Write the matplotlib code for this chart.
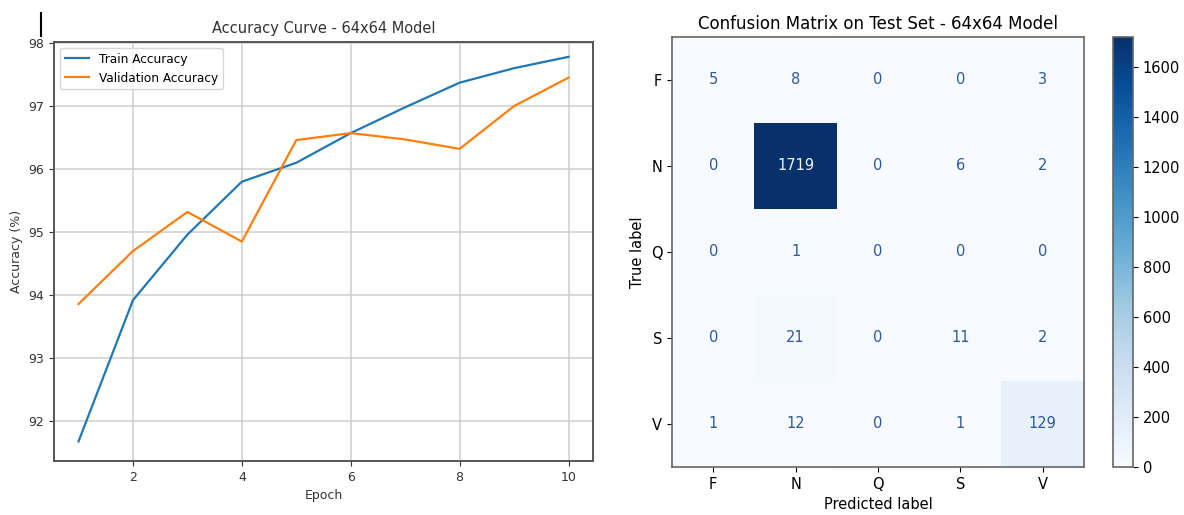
import numpy as np
import matplotlib
matplotlib.use('Agg')
import matplotlib.pyplot as plt
from matplotlib.lines import Line2D

# Accuracy curve data
epochs = [1, 2, 3, 4, 5, 6, 7, 8, 9, 10]
train_acc = [91.68, 93.92, 94.96, 95.80, 96.10, 96.57, 96.98, 97.37, 97.60, 97.78]
val_acc = [93.86, 94.70, 95.32, 94.85, 96.46, 96.57, 96.47, 96.32, 97.00, 97.45]

# Confusion matrix data
class_names = ['F', 'N', 'Q', 'S', 'V']
cm = np.array([
    [5, 8, 0, 0, 3],
    [0, 1719, 0, 6, 2],
    [0, 1, 0, 0, 0],
    [0, 21, 0, 11, 2],
    [1, 12, 0, 1, 129],
])

W, H = 1184, 515
fig = plt.figure(figsize=(W / 100, H / 100), dpi=100)

# ---- Left: accuracy curve ----
ax1 = fig.add_axes([54 / W, 1 - 461 / H, (593 - 54) / W, (461 - 41.7) / H])
ax1.plot(epochs, train_acc, color='#1f77b4', lw=1.6, label='Train Accuracy')
ax1.plot(epochs, val_acc, color='#ff7f0e', lw=1.6, label='Validation Accuracy')
ax1.set_title('Accuracy Curve - 64x64 Model', fontsize=10.5, color='#333333')
ax1.set_xlabel('Epoch', fontsize=9, color='#333333')
ax1.set_ylabel('Accuracy (%)', fontsize=9, color='#333333')
ax1.set_xticks([2, 4, 6, 8, 10])
ax1.set_yticks([92, 93, 94, 95, 96, 97, 98])
ax1.set_ylim(91.37, 98.02)
ax1.tick_params(labelsize=9, colors='#333333')
ax1.grid(True, color='#cfcfcf', lw=1.1)
for s in ax1.spines.values():
    s.set_color('#555555')
    s.set_linewidth(1.4)
ax1.legend(loc='upper left', fontsize=8.7)

# ---- Right: confusion matrix ----
ax2 = fig.add_axes([672 / W, 1 - 467 / H, (1084 - 672) / W, (467 - 37) / H])
im = ax2.imshow(cm, cmap='Blues', vmin=0, vmax=cm.max(), aspect='auto')
thresh = cm.max() / 2
for i in range(cm.shape[0]):
    for j in range(cm.shape[1]):
        c = '#f0f4fa' if cm[i, j] > thresh else '#2c5a9a'
        ax2.text(j, i, str(cm[i, j]), ha='center', va='center', color=c, fontsize=10.5)
ax2.set_xticks(range(len(class_names)))
ax2.set_xticklabels(class_names)
ax2.set_yticks(range(len(class_names)))
ax2.set_yticklabels(class_names)
ax2.tick_params(labelsize=10.5)
ax2.set_xlabel('Predicted label', fontsize=10.5)
ax2.set_ylabel('True label', fontsize=10.5)
ax2.set_title('Confusion Matrix on Test Set - 64x64 Model', fontsize=12)
for s in ax2.spines.values():
    s.set_color('#666666')
    s.set_linewidth(1.2)

cax = fig.add_axes([1113 / W, 1 - 467 / H, 20 / W, (467 - 37) / H])
cb = fig.colorbar(im, cax=cax)
cb.set_ticks([0, 200, 400, 600, 800, 1000, 1200, 1400, 1600])
cb.ax.tick_params(labelsize=10.5)
cb.outline.set_edgecolor('#666666')
cb.outline.set_linewidth(1.2)

# small vertical mark in the top-left corner
fig.add_artist(Line2D([41 / W, 41 / W], [1 - 13 / H, 1 - 36 / H], color='black', lw=1.5))

fig.savefig('out.png', dpi=100)
